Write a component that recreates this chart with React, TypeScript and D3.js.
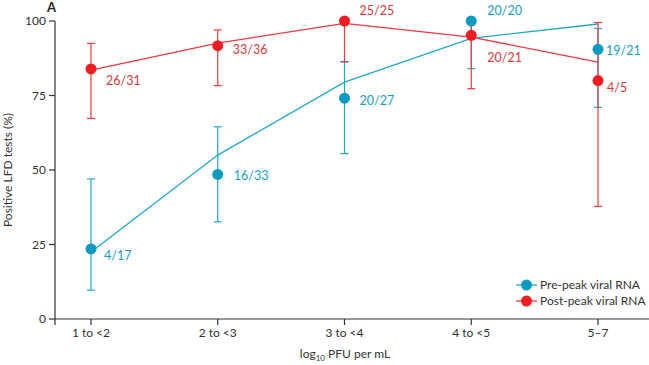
import React from 'react';
import * as d3 from 'd3';

// categories on the x axis (log10 PFU per mL)
const categories = ['1 to <2', '2 to <3', '3 to <4', '4 to <5', '5–7'];
const yTicks = [0, 25, 50, 75, 100];

// pre-peak viral RNA
const preValue = [23.5, 48.5, 74.1, 100, 90.5];
const preLow = [9.7, 32.6, 55.5, 84, 71];
const preHigh = [47, 64.5, 86.3, 100, 97.5];
const preFit = [22.5, 55, 79.5, 94.2, 99];
const preLabel = ['4/17', '16/33', '20/27', '20/20', '19/21'];

// post-peak viral RNA
const postValue = [83.9, 91.7, 100, 95.2, 80];
const postLow = [67.3, 78.3, 86.3, 77.3, 37.8];
const postHigh = [92.5, 97, 100, 99.9, 99.5];
const postFit = [83.5, 92.6, 99.2, 94.6, 86.2];
const postLabel = ['26/31', '33/36', '25/25', '20/21', '4/5'];

const TEAL = '#0b9bc2';
const TEAL_LINE = '#1fa9c9';
const TEAL_TEXT = '#1a9fc2';
const RED = '#f01c22';
const RED_LINE = '#ec3a3f';
const RED_TEXT = '#d83a3d';
const FONT = 'Lato, "Open Sans", sans-serif';

// label offsets relative to point
const preOff = [[13, 7], [16, 1], [15, 2], [16, -10], [8, 1]];
const postOff = [[15, 12], [15, 4], [15, -10], [16, 22], [9, 7]];

const W = 649;
const H = 365;

export default function App() {
    const x = d3.scalePoint<string>().domain(categories).range([91, 598]);
    const y = d3.scaleLinear().domain([0, 100]).range([319, 21]);
    const line = d3.line<number>().x((d, i) => x(categories[i]) as number).y(d => y(d));

    const series = [
        { value: preValue, low: preLow, high: preHigh, fit: preFit, label: preLabel, off: preOff, color: TEAL, lineColor: TEAL_LINE, text: TEAL_TEXT },
        { value: postValue, low: postLow, high: postHigh, fit: postFit, label: postLabel, off: postOff, color: RED, lineColor: RED_LINE, text: RED_TEXT },
    ];

    return (
        <svg width={W} height={H} style={{ position: 'absolute', left: 0, top: 0, background: '#fff' }} fontFamily={FONT}>
            <text x={47} y={12} fontSize={13} fontWeight="bold" fill="#222">A</text>

            {/* axes */}
            <line x1={55} x2={55} y1={y(100)} y2={325} stroke="#333" strokeWidth={1.2} />
            <line x1={55} x2={W} y1={319} y2={319} stroke="#333" strokeWidth={1.2} />
            {yTicks.map(t => (
                <g key={t}>
                    <line x1={49} x2={55} y1={y(t)} y2={y(t)} stroke="#333" strokeWidth={1.2} />
                    <text x={46} y={y(t)} dy="0.35em" textAnchor="end" fontSize={12} fill="#333">{t}</text>
                </g>
            ))}
            {categories.map(c => (
                <g key={c}>
                    <line x1={x(c)} x2={x(c)} y1={319} y2={325} stroke="#333" strokeWidth={1.2} />
                    <text x={x(c)} y={337} textAnchor="middle" fontSize={12} fill="#333">{c}</text>
                </g>
            ))}
            <text transform={`translate(12,170) rotate(-90)`} textAnchor="middle" fontSize={12} fill="#333">Positive LFD tests (%)</text>
            <text x={345} y={358} textAnchor="middle" fontSize={12} fill="#333">
                log<tspan fontSize={8} dy={3}>10</tspan><tspan dy={-3}> PFU per mL</tspan>
            </text>

            {/* error bars */}
            {series.map((s, si) => (
                <g key={'e' + si} stroke={s.lineColor} strokeWidth={1.2}>
                    {categories.map((c, i) => {
                        const cx = x(c) as number;
                        return (
                            <g key={c}>
                                <line x1={cx} x2={cx} y1={y(s.low[i])} y2={y(s.high[i])} />
                                <line x1={cx - 4} x2={cx + 4} y1={y(s.low[i])} y2={y(s.low[i])} />
                                <line x1={cx - 4} x2={cx + 4} y1={y(s.high[i])} y2={y(s.high[i])} />
                            </g>
                        );
                    })}
                </g>
            ))}

            {/* fitted lines */}
            {series.map((s, si) => (
                <path key={'l' + si} d={line(s.fit) || ''} fill="none" stroke={s.lineColor} strokeWidth={1.3} />
            ))}

            {/* points and labels */}
            {series.map((s, si) => (
                <g key={'p' + si}>
                    {categories.map((c, i) => (
                        <g key={c}>
                            <circle cx={x(c)} cy={y(s.value[i])} r={5.5} fill={s.color} />
                            <text x={(x(c) as number) + s.off[i][0]} y={y(s.value[i]) + s.off[i][1]} dy="0.35em" fontSize={12.5} fill={s.text}>{s.label[i]}</text>
                        </g>
                    ))}
                </g>
            ))}

            {/* legend */}
            {[{ name: 'Pre-peak viral RNA', s: series[0] }, { name: 'Post-peak viral RNA', s: series[1] }].map((d, i) => (
                <g key={d.name} transform={`translate(516,${285 + i * 16})`}>
                    <line x1={0} x2={21} y1={0} y2={0} stroke={d.s.lineColor} strokeWidth={1.3} />
                    <circle cx={10.5} cy={0} r={5.5} fill={d.s.color} />
                    <text x={24} y={0} dy="0.35em" fontSize={12} fill="#333">{d.name}</text>
                </g>
            ))}
        </svg>
    );
}
